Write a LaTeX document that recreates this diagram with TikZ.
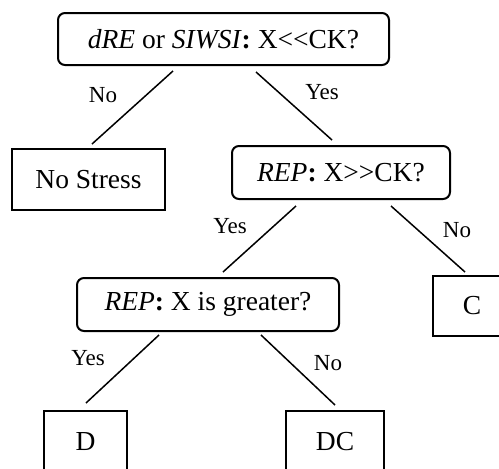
\documentclass[tikz,border=0pt]{standalone}
\usepackage{fontspec}
\setmainfont{Liberation Serif}
\begin{document}
\begin{tikzpicture}[x=1pt,y=-1pt,
  boxtext/.style={font=\fontsize{27.5}{30}\selectfont, inner sep=0pt, draw, line width=2pt},
  qbox/.style={boxtext, rounded corners=7pt},
  leafbox/.style={boxtext},
  conn/.style={line width=1.5pt},
  lab/.style={font=\fontsize{23}{26}\selectfont, inner sep=0pt}]
\clip (0,0) rectangle (499,469);
\fill[white] (0,0) rectangle (499,469);
\node[qbox, minimum width=331pt, minimum height=52pt] (top) at (223.5,39) {\textit{dRE} or \textit{SIWSI}\textbf{:} X<{}<CK?};
\node[leafbox, minimum width=153pt, minimum height=61pt] (nostress) at (88.5,179.5) {No Stress};
\node[qbox, minimum width=218pt, minimum height=53pt] (rep1) at (341,172.5) {\textit{REP}\textbf{:} X>{}>CK?};
\node[qbox, minimum width=262pt, minimum height=53pt] (rep2) at (208,304.5) {\textit{REP}\textbf{:} X is greater?};
\node[leafbox, minimum width=78pt, minimum height=60pt] (C) at (472,306) {C};
\node[leafbox, minimum width=83pt, minimum height=62pt] (D) at (85.5,442) {D};
\node[leafbox, minimum width=98pt, minimum height=62pt] (DC) at (335,442) {DC};
\draw[conn] ([shift={(-50.5,5)}]top.south) -- ([shift={(3.5,-4)}]nostress.north);
\draw[conn] ([shift={(32.5,6)}]top.south) -- ([shift={(-9,-5)}]rep1.north);
\draw[conn] ([shift={(-45,6)}]rep1.south) -- ([shift={(15,-5)}]rep2.north);
\draw[conn] ([shift={(50,6)}]rep1.south) -- ([shift={(-7,-3)}]C.north);
\draw[conn] ([shift={(-49,3)}]rep2.south) -- ([shift={(0.5,-7)}]D.north);
\draw[conn] ([shift={(53,3)}]rep2.south) -- ([shift={(0,-5)}]DC.north);
\node[lab] (l1) at (103,95) {No};
\node[lab] (l2) at (322,92) {Yes};
\node[lab] (l3) at (230,226) {Yes};
\node[lab] (l4) at (457,230) {No};
\node[lab] (l5) at (88,358) {Yes};
\node[lab] (l6) at (328,363) {No};
\end{tikzpicture}
\end{document}
